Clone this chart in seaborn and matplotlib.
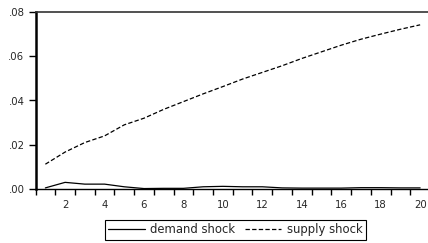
import numpy as np
import pandas as pd
import seaborn as sns
import matplotlib
matplotlib.use('Agg')
import matplotlib.pyplot as plt
from matplotlib.ticker import FixedLocator, FuncFormatter
from matplotlib.lines import Line2D

# 데이터
periods = list(range(1, 21))
demand_shock = [0.0005, 0.0030, 0.0022, 0.0022, 0.0010, 0.0002, 0.0003, 0.0003, 0.0010, 0.0012,
                0.0010, 0.0010, 0.0005, 0.0004, 0.0004, 0.0004, 0.0006, 0.0006, 0.0005, 0.0005]
supply_shock = [0.0112, 0.0167, 0.0210, 0.0240, 0.0290, 0.0320, 0.0360, 0.0395, 0.0430, 0.0463,
                0.0497, 0.0527, 0.0557, 0.0590, 0.0620, 0.0650, 0.0677, 0.0700, 0.0722, 0.0742]
series_names = ['demand shock', 'supply shock']

df = pd.DataFrame({
    'period': periods * 2,
    'value': demand_shock + supply_shock,
    'shock': [series_names[0]] * 20 + [series_names[1]] * 20,
})

sns.set_style('white')
plt.rcParams['font.family'] = ['DejaVu Sans']

fig = plt.figure(figsize=(4.28, 2.43), dpi=100)
ax = fig.add_axes([35.5 / 428, 1 - 189 / 243, (430 - 35.5) / 428, (189 - 12) / 243])

sns.lineplot(data=df, x='period', y='value', hue='shock', style='shock',
             palette=['black', 'black'], dashes=[(None, None), (3.5, 1.8)],
             linewidth=0.9, ax=ax, legend=False)

ax.set_xlim(0.5, 20.5)
ax.set_ylim(0, 0.08)
ax.set_xlabel('')
ax.set_ylabel('')

# x축: 라벨은 짝수, 눈금은 사이
ax.xaxis.set_major_locator(FixedLocator(list(range(2, 21, 2))))
ax.xaxis.set_minor_locator(FixedLocator([i + 0.5 for i in range(0, 21)]))
ax.tick_params(axis='x', which='major', length=0, labelsize=7.3, pad=8)
ax.tick_params(axis='x', which='minor', length=4, width=1, direction='out', color='black', bottom=True)
ax.set_yticks([0, 0.02, 0.04, 0.06, 0.08])
ax.yaxis.set_major_formatter(FuncFormatter(lambda v, p: f'{v:.2f}'.lstrip('0')))
ax.tick_params(axis='y', length=5, width=1, direction='out', color='black', left=True, labelsize=7.3, pad=3)

ax.spines['left'].set_linewidth(1.8)
ax.spines['left'].set_color('black')
ax.spines['bottom'].set_linewidth(1.0)
ax.spines['bottom'].set_color('black')
ax.spines['top'].set_linewidth(1.2)
ax.spines['top'].set_color('#333333')
ax.spines['right'].set_visible(False)

# 범례
handles = [Line2D([], [], color='black', lw=0.9),
           Line2D([], [], color='black', lw=0.9, dashes=(3.5, 1.8))]
leg = fig.legend(handles, series_names, loc='center', bbox_to_anchor=(235.5 / 428, 1 - 229.5 / 243),
                 ncol=2, frameon=True, fancybox=False, edgecolor='black', fontsize=8.4,
                 handlelength=3.1, handletextpad=0.5, columnspacing=0.8, borderpad=0.3,
                 framealpha=1)
leg.get_frame().set_linewidth(0.8)

fig.savefig('out.png', dpi=100)
